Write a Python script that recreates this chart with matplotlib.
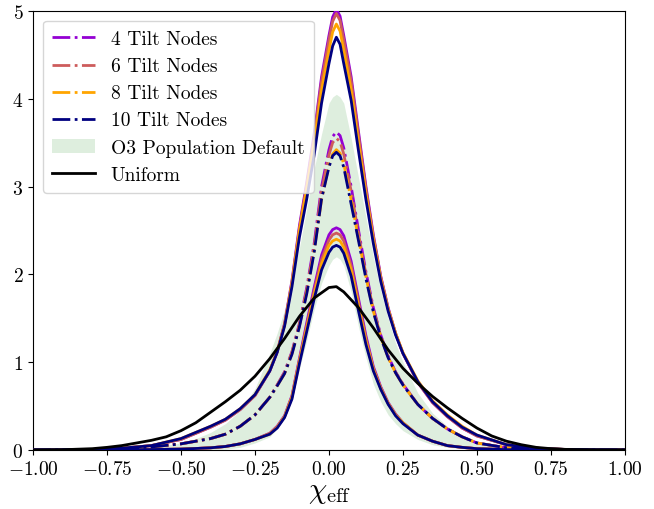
import matplotlib
matplotlib.use("Agg")
import matplotlib.pyplot as plt
from matplotlib.lines import Line2D
from matplotlib.patches import Patch

plt.rcParams["font.family"] = "serif"
plt.rcParams["font.serif"] = ["cmr10"]
plt.rcParams["mathtext.fontset"] = "cm"
plt.rcParams["axes.formatter.use_mathtext"] = True

# chi_eff grid
X = [-1.0, -0.8, -0.7, -0.6, -0.5, -0.45, -0.4, -0.35, -0.3, -0.25, -0.2,
     -0.175, -0.15, -0.125, -0.1, -0.075, -0.05, -0.025, 0.0, 0.0125, 0.025,
     0.0375, 0.05, 0.075, 0.1, 0.125, 0.15, 0.175, 0.2, 0.225, 0.25, 0.3,
     0.35, 0.4, 0.45, 0.5, 0.6, 0.7, 0.8, 1.0]

# 4 tilt nodes: lower / median / upper
low4 = [0, 0, 0.002, 0.005, 0.01, 0.017, 0.025, 0.04, 0.07, 0.12, 0.19,
        0.27, 0.39, 0.62, 1.04, 1.45, 1.85, 2.22, 2.45, 2.51, 2.53,
        2.51, 2.44, 2.15, 1.72, 1.30, 0.95, 0.72, 0.54, 0.41, 0.31, 0.17,
        0.10, 0.05, 0.03, 0.015, 0.004, 0.001, 0, 0]
med4 = [0, 0.005, 0.015, 0.035, 0.07, 0.10, 0.13, 0.18, 0.27, 0.40, 0.60,
        0.74, 0.89, 1.12, 1.44, 1.85, 2.35, 3.00, 3.42, 3.57, 3.62,
        3.58, 3.44, 3.00, 2.50, 2.03, 1.62, 1.31, 1.07, 0.89, 0.75, 0.52,
        0.36, 0.24, 0.15, 0.08, 0.025, 0.008, 0.002, 0]
up4 = [0, 0.005, 0.02, 0.05, 0.12, 0.19, 0.26, 0.34, 0.46, 0.62, 0.90,
       1.12, 1.44, 1.93, 2.55, 3.05, 3.60, 4.25, 4.72, 4.93, 5.02,
       4.94, 4.72, 4.25, 3.62, 3.00, 2.45, 1.98, 1.62, 1.33, 1.10, 0.77,
       0.54, 0.38, 0.25, 0.16, 0.06, 0.02, 0.006, 0]

# 6 tilt nodes
low6 = [0, 0, 0.002, 0.005, 0.01, 0.017, 0.025, 0.04, 0.07, 0.12, 0.19,
        0.26, 0.38, 0.61, 1.02, 1.42, 1.81, 2.17, 2.39, 2.45, 2.47,
        2.45, 2.38, 2.10, 1.68, 1.27, 0.93, 0.71, 0.53, 0.40, 0.31, 0.17,
        0.10, 0.05, 0.03, 0.015, 0.004, 0.001, 0, 0]
med6 = [0, 0.005, 0.015, 0.035, 0.07, 0.10, 0.13, 0.18, 0.27, 0.40, 0.60,
        0.74, 0.88, 1.11, 1.42, 1.82, 2.31, 2.95, 3.36, 3.50, 3.55,
        3.51, 3.37, 2.95, 2.46, 2.00, 1.60, 1.30, 1.06, 0.88, 0.75, 0.52,
        0.36, 0.24, 0.15, 0.08, 0.025, 0.008, 0.002, 0]
up6 = [0, 0.005, 0.02, 0.05, 0.12, 0.19, 0.26, 0.34, 0.46, 0.62, 0.90,
       1.12, 1.43, 1.91, 2.52, 3.02, 3.56, 4.20, 4.67, 4.88, 4.97,
       4.89, 4.67, 4.20, 3.58, 2.97, 2.43, 1.97, 1.61, 1.33, 1.10, 0.77,
       0.54, 0.38, 0.25, 0.16, 0.06, 0.02, 0.006, 0]

# 8 tilt nodes
low8 = [0, 0, 0.002, 0.005, 0.01, 0.017, 0.025, 0.04, 0.07, 0.12, 0.18,
        0.26, 0.38, 0.60, 1.01, 1.39, 1.77, 2.12, 2.33, 2.38, 2.40,
        2.38, 2.31, 2.05, 1.64, 1.24, 0.92, 0.70, 0.53, 0.40, 0.31, 0.17,
        0.10, 0.05, 0.03, 0.015, 0.004, 0.001, 0, 0]
med8 = [0, 0.005, 0.015, 0.035, 0.07, 0.10, 0.13, 0.18, 0.27, 0.40, 0.60,
        0.73, 0.87, 1.10, 1.41, 1.80, 2.27, 2.85, 3.24, 3.37, 3.42,
        3.38, 3.26, 2.85, 2.40, 1.97, 1.58, 1.29, 1.05, 0.88, 0.74, 0.52,
        0.36, 0.24, 0.15, 0.08, 0.025, 0.008, 0.002, 0]
up8 = [0, 0.005, 0.02, 0.05, 0.13, 0.20, 0.27, 0.35, 0.47, 0.63, 0.91,
       1.12, 1.42, 1.90, 2.50, 2.98, 3.50, 4.10, 4.55, 4.76, 4.85,
       4.77, 4.55, 4.10, 3.50, 2.92, 2.40, 1.95, 1.60, 1.33, 1.11, 0.79,
       0.56, 0.40, 0.27, 0.17, 0.06, 0.02, 0.006, 0]

# 10 tilt nodes
low10 = [0, 0, 0.002, 0.005, 0.01, 0.017, 0.025, 0.04, 0.07, 0.12, 0.18,
         0.25, 0.37, 0.58, 0.98, 1.35, 1.72, 2.05, 2.25, 2.31, 2.33,
         2.31, 2.24, 1.98, 1.58, 1.20, 0.90, 0.69, 0.52, 0.39, 0.30, 0.17,
         0.10, 0.05, 0.03, 0.015, 0.004, 0.001, 0, 0]
med10 = [0, 0.005, 0.015, 0.035, 0.07, 0.10, 0.13, 0.18, 0.27, 0.40, 0.60,
         0.73, 0.87, 1.09, 1.40, 1.78, 2.25, 2.86, 3.22, 3.35, 3.39,
         3.35, 3.22, 2.80, 2.38, 1.95, 1.57, 1.28, 1.05, 0.88, 0.74, 0.52,
         0.36, 0.24, 0.15, 0.08, 0.025, 0.008, 0.002, 0]
up10 = [0, 0.005, 0.02, 0.05, 0.13, 0.20, 0.27, 0.35, 0.47, 0.63, 0.90,
        1.11, 1.41, 1.86, 2.42, 2.86, 3.36, 3.95, 4.40, 4.60, 4.70,
        4.62, 4.40, 3.98, 3.40, 2.85, 2.35, 1.92, 1.58, 1.31, 1.10, 0.78,
        0.55, 0.39, 0.26, 0.17, 0.06, 0.02, 0.006, 0]

# O3 population default band
o3_low = [0, 0, 0, 0, 0, 0.002, 0.005, 0.01, 0.03, 0.08, 0.15,
          0.24, 0.36, 0.58, 0.92, 1.25, 1.60, 1.90, 2.10, 2.17, 2.20,
          2.17, 2.10, 1.80, 1.40, 1.05, 0.75, 0.55, 0.40, 0.30, 0.22, 0.12,
          0.06, 0.03, 0.015, 0.005, 0, 0, 0, 0]
o3_up = [0, 0.005, 0.012, 0.03, 0.08, 0.13, 0.20, 0.30, 0.45, 0.70, 1.10,
         1.33, 1.60, 1.95, 2.30, 2.75, 3.20, 3.60, 3.95, 4.02, 4.05,
         4.02, 3.95, 3.55, 3.10, 2.65, 2.20, 1.82, 1.50, 1.22, 1.00, 0.65,
         0.42, 0.27, 0.17, 0.10, 0.03, 0.01, 0.004, 0]

# uniform
X_uni = [-1.0, -0.9, -0.8, -0.75, -0.7, -0.65, -0.6, -0.55, -0.5, -0.45,
         -0.4, -0.35, -0.3, -0.25, -0.2, -0.15, -0.1, -0.05, 0.0, 0.025,
         0.05, 0.1, 0.15, 0.2, 0.25, 0.3, 0.35, 0.4, 0.45, 0.5, 0.55, 0.6,
         0.65, 0.7, 0.75, 0.8, 0.9, 1.0]
uni = [0.0, 0.003, 0.015, 0.03, 0.05, 0.08, 0.11, 0.15, 0.22, 0.31,
       0.43, 0.55, 0.68, 0.84, 1.04, 1.27, 1.52, 1.73, 1.85, 1.86,
       1.80, 1.62, 1.39, 1.14, 0.93, 0.76, 0.61, 0.48, 0.36, 0.25, 0.16, 0.10,
       0.06, 0.03, 0.015, 0.007, 0.001, 0.0]

models = [
    ("4 Tilt Nodes", "darkviolet", low4, med4, up4),
    ("6 Tilt Nodes", "indianred", low6, med6, up6),
    ("8 Tilt Nodes", "orange", low8, med8, up8),
    ("10 Tilt Nodes", "navy", low10, med10, up10),
]

fig = plt.figure(figsize=(6.54, 5.10), dpi=100)
ax = fig.add_axes([0.0505, 0.1157, 0.905, 0.861])

ax.fill_between(X, o3_low, o3_up, color="green", alpha=0.13, lw=0, zorder=1)

handles = []
for label, col, lo, med, hi in models:
    ax.plot(X, lo, color=col, lw=2, zorder=3)
    ax.plot(X, hi, color=col, lw=2, zorder=3)
    ax.plot(X, med, color=col, lw=2, ls="-.", zorder=3)
    handles.append(Line2D([], [], color=col, lw=2, ls="-.", label=label))

ax.plot(X_uni, uni, color="k", lw=2, zorder=4)
handles.append(Patch(facecolor="green", alpha=0.13, label="O3 Population Default"))
handles.append(Line2D([], [], color="k", lw=2, label="Uniform"))

ax.set_xlim(-1, 1)
ax.set_ylim(0, 5)
ax.set_xticks([-1, -0.75, -0.5, -0.25, 0, 0.25, 0.5, 0.75, 1])
ax.set_xticklabels(["$-1.00$", "$-0.75$", "$-0.50$", "$-0.25$", "$0.00$",
                    "$0.25$", "$0.50$", "$0.75$", "$1.00$"])
ax.set_yticks([0, 1, 2, 3, 4, 5])
ax.set_yticklabels(["$0$", "$1$", "$2$", "$3$", "$4$", "$5$"])
ax.tick_params(labelsize=14)
ax.set_xlabel(r"$\chi_{\rm eff}$", fontsize=21, labelpad=1)

ax.legend(handles=handles, loc="upper left", fontsize=14,
          handlelength=2.2, borderpad=0.5, labelspacing=0.47)

fig.savefig("out.png", dpi=100)
